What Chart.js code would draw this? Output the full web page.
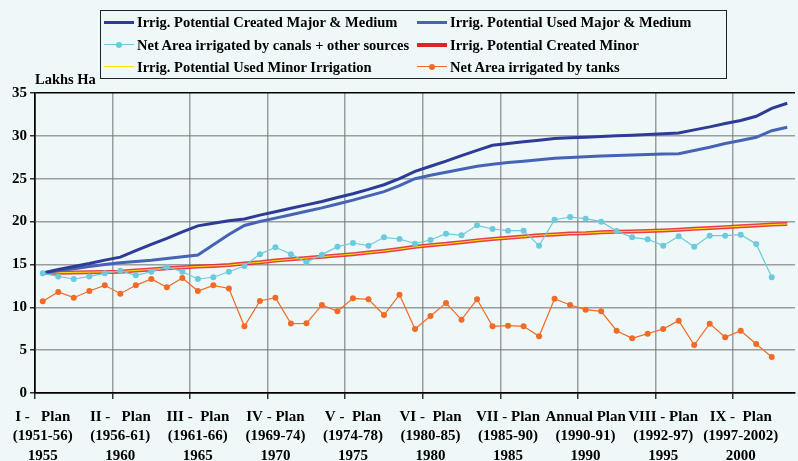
<!DOCTYPE html>
<html>
<head>
<meta charset="utf-8">
<script src="https://cdn.jsdelivr.net/npm/chart.js@4.4.1/dist/chart.umd.min.js"></script>
<style>
  html, body { margin: 0; padding: 0; background: #eef8f8; }
  #wrap { position: relative; width: 798px; height: 461px; overflow: hidden; }
  #chart { position: absolute; left: 0; top: 0; }
  .serif { font-family: "Liberation Serif", "Times New Roman", serif; font-weight: bold; color: #000; }
  #unit { position: absolute; left: 35px; top: 71px; font-size: 14.5px; }
  #legend { position: absolute; left: 100px; top: 10px; width: 625px; height: 67px;
            border: 1.5px solid #222; }
  .item { position: absolute; height: 20px; font-size: 14.5px; line-height: 20px; white-space: nowrap; }
  .sample { position: absolute; left: 0; top: 10px; width: 30px; }
  .dot { position: absolute; left: 12px; width: 6px; height: 6px; border-radius: 50%; }
  .item span.txt { position: absolute; left: 33px; top: 0; }
</style>
</head>
<body>
<div id="wrap">
  <canvas id="chart" width="798" height="461"></canvas>
  <div id="unit" class="serif">Lakhs Ha</div>
  <div id="legend" class="serif"></div>
</div>
<script>
// x-axis plan labels (shown every 5th category)
const planNames = ["I -   Plan", "II -   Plan", "III -  Plan", "IV - Plan", "V -  Plan",
  "VI -  Plan", "VII - Plan", "Annual Plan", "VIII - Plan", "IX -  Plan"];
const planPeriods = ["(1951-56)", "(1956-61)", "(1961-66)", "(1969-74)", "(1974-78)",
  "(1980-85)", "(1985-90)", "(1990-91)", "(1992-97)", "(1997-2002)"];
const tickYears = ["1955", "1960", "1965", "1970", "1975", "1980", "1985", "1990", "1995", "2000"];
const yTicks = [0, 5, 10, 15, 20, 25, 30, 35];

const seriesNames = [
  "Irrig. Potential Created Major & Medium",
  "Irrig. Potential Used Major & Medium",
  "Net Area irrigated by canals + other sources",
  "Irrig. Potential Created Minor",
  "Irrig. Potential Used Minor Irrigation",
  "Net Area irrigated by tanks"
];

const createdMajor = [14.0, 14.4, 14.75, 15.1, 15.5, 15.85, 16.6, 17.35, 18.05, 18.8,
  19.5, 19.8, 20.1, 20.3, 20.75, 21.15, 21.55, 21.95, 22.35, 22.8,
  23.25, 23.75, 24.3, 25.0, 25.85, 26.45, 27.05, 27.7, 28.3, 28.9,
  29.1, 29.3, 29.5, 29.7, 29.78, 29.85, 29.93, 30.0, 30.08, 30.16,
  30.24, 30.33, 30.7, 31.05, 31.45, 31.8, 32.28, 33.2, 33.8];

const usedMajor = [14.0, 14.25, 14.5, 14.75, 15.0, 15.2, 15.35, 15.5, 15.7, 15.9,
  16.1, 17.3, 18.5, 19.55, 20.0, 20.4, 20.8, 21.2, 21.6, 22.05,
  22.5, 23.0, 23.5, 24.2, 25.0, 25.4, 25.75, 26.1, 26.45, 26.7,
  26.88, 27.05, 27.2, 27.38, 27.47, 27.56, 27.65, 27.7, 27.76, 27.82,
  27.87, 27.92, 28.3, 28.67, 29.1, 29.45, 29.83, 30.6, 31.0];

const canalsOther = [13.96, 13.6, 13.3, 13.6, 13.96, 14.27, 13.73, 14.15, 14.7, 14.15,
  13.3, 13.5, 14.15, 14.82, 16.2, 17.0, 16.2, 15.25, 16.14, 17.07,
  17.5, 17.19, 18.16, 17.97, 17.42, 17.85, 18.59, 18.4, 19.56, 19.13,
  18.94, 18.94, 17.19, 20.22, 20.53, 20.34, 19.99, 18.9, 18.16, 17.93,
  17.19, 18.28, 17.07, 18.36, 18.36, 18.47, 17.38, 13.5, null];

const createdMinor = [14.0, 14.03, 14.07, 14.1, 14.13, 14.16, 14.3, 14.42, 14.55, 14.65,
  14.75, 14.83, 14.92, 15.1, 15.25, 15.45, 15.6, 15.75, 15.9, 16.05,
  16.2, 16.38, 16.57, 16.8, 17.05, 17.25, 17.4, 17.6, 17.8, 17.97,
  18.1, 18.25, 18.4, 18.5, 18.6, 18.65, 18.75, 18.8, 18.85, 18.9,
  18.97, 19.05, 19.15, 19.25, 19.35, 19.45, 19.55, 19.65, 19.72];

const usedMinor = [14.0, 14.03, 14.07, 14.1, 14.13, 14.16, 14.3, 14.42, 14.55, 14.65,
  14.75, 14.83, 14.92, 15.1, 15.25, 15.45, 15.6, 15.75, 15.9, 16.05,
  16.2, 16.38, 16.57, 16.8, 17.05, 17.25, 17.4, 17.6, 17.8, 17.97,
  18.1, 18.25, 18.4, 18.5, 18.6, 18.65, 18.75, 18.8, 18.85, 18.9,
  18.97, 19.05, 19.15, 19.25, 19.35, 19.45, 19.55, 19.65, 19.72];

const tanks = [10.7, 11.78, 11.12, 11.9, 12.56, 11.59, 12.56, 13.3, 12.33, 13.42,
  11.9, 12.56, 12.2, 7.78, 10.73, 11.12, 8.1, 8.13, 10.27, 9.53,
  11.05, 10.93, 9.1, 11.47, 7.47, 8.98, 10.5, 8.56, 10.93, 7.78,
  7.86, 7.78, 6.61, 11.0, 10.27, 9.72, 9.53, 7.27, 6.38, 6.92,
  7.47, 8.44, 5.6, 8.09, 6.5, 7.27, 5.72, 4.2, null];

const colors = ["#2e3c96", "#4763b6", "#6ccadc", "#e4202c", "#ffe400", "#f26a26"];

// one category per year, labelled every fifth
const labels = createdMajor.map((_, i) =>
  i % 5 === 0 && i / 5 < planNames.length
    ? [planNames[i / 5], planPeriods[i / 5], tickYears[i / 5]]
    : "");

const serif = "'Liberation Serif', 'Times New Roman', serif";
const gridGray = "rgba(120,120,120,0.7)";

function lineSet(idx, data, width, order, points) {
  return {
    label: seriesNames[idx],
    data: data,
    borderColor: colors[idx],
    backgroundColor: colors[idx],
    borderWidth: width,
    pointRadius: points ? 3 : 0,
    pointBorderWidth: 0,
    pointHoverRadius: 0,
    tension: 0,
    fill: false,
    order: order,
  };
}

const datasets = [
  lineSet(0, createdMajor, 3, 3, false),
  lineSet(1, usedMajor, 3, 4, false),
  lineSet(2, canalsOther, 1.2, 2, true),
  Object.assign(lineSet(3, createdMinor, 4, 6, false), { borderColor: "rgba(228,32,44,0.85)" }),
  lineSet(4, usedMinor, 1, 5, false),
  lineSet(5, tanks, 1.2, 1, true),
];

new Chart(document.getElementById("chart"), {
  type: "line",
  data: { labels: labels, datasets: datasets },
  options: {
    responsive: false,
    animation: false,
    layout: { padding: { top: 93, left: 0, right: -6, bottom: 0 } },
    plugins: { legend: { display: false }, tooltip: { enabled: false } },
    scales: {
      x: {
        offset: true,
        grid: {
          offset: true,
          lineWidth: 1.5,
          color: (c) => (c.index === 0 ? "#000" : c.index % 5 === 0 ? gridGray : "transparent"),
          tickColor: (c) => (c.index % 5 === 0 ? "#333" : "transparent"),
          tickLength: 6,
        },
        border: { color: "#000", width: 1.5 },
        ticks: {
          autoSkip: false,
          maxRotation: 0,
          minRotation: 0,
          padding: 8,
          color: "#000",
          font: { family: serif, size: 15, weight: "bold", lineHeight: 1.3 },
        },
        afterFit: (s) => { s.height = 68; },
      },
      y: {
        min: 0,
        max: 35,
        afterBuildTicks: (s) => { s.ticks = yTicks.map((v) => ({ value: v })); },
        grid: {
          lineWidth: 1.5,
          color: (c) => (c.tick && (c.tick.value === 35 || c.tick.value === 0) ? "#000" : gridGray),
          tickColor: "#333",
          tickLength: 5,
        },
        border: { color: "#000", width: 1.5 },
        ticks: {
          padding: 3,
          color: "#000",
          font: { family: serif, size: 15, weight: "bold" },
        },
        afterFit: (s) => { s.width = 35; },
      },
    },
  },
});

// legend box, two columns
const legendBox = document.getElementById("legend");
const legendPos = [[3, 1], [316, 1], [3, 23.5], [316, 23.5], [3, 46], [316, 46]];
seriesNames.forEach((name, i) => {
  const item = document.createElement("div");
  item.className = "item";
  item.style.left = legendPos[i][0] + "px";
  item.style.top = legendPos[i][1] + "px";
  const ds = datasets[i];
  const w = Math.max(ds.borderWidth, 1.5);
  const sample = document.createElement("div");
  sample.className = "sample";
  sample.style.borderTop = w + "px solid " + colors[i];
  sample.style.marginTop = -w / 2 + "px";
  item.appendChild(sample);
  if (ds.pointRadius) {
    const dot = document.createElement("div");
    dot.className = "dot";
    dot.style.background = colors[i];
    dot.style.top = "7px";
    item.appendChild(dot);
  }
  const txt = document.createElement("span");
  txt.className = "txt";
  txt.textContent = name;
  item.appendChild(txt);
  legendBox.appendChild(item);
});
</script>
</body>
</html>
